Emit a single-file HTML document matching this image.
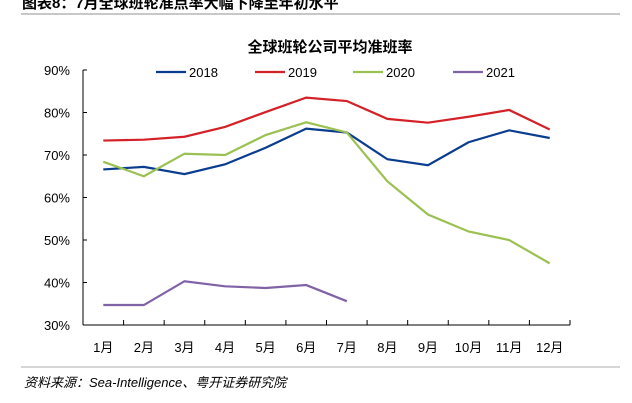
<!DOCTYPE html>
<html><head><meta charset="utf-8"><style>
body{margin:0;width:632px;height:403px;background:#fff;overflow:hidden;font-family:"Liberation Sans","Noto Sans CJK SC",sans-serif;}
</style></head><body>
<svg width="632" height="403" style="position:absolute;left:0;top:0">
<text x="22" y="8" font-size="15" font-weight="bold" fill="#000">图表8：7月全球班轮准点率大幅下降至年初水平</text>
<line x1="21" y1="14" x2="620" y2="14" stroke="#c8c8c8" stroke-width="2"/>
<text x="330" y="52" font-size="15" font-weight="bold" text-anchor="middle" fill="#000">全球班轮公司平均准班率</text>
<g id="legend"></g>
<g id="axes"></g>
<g id="plot"></g>
<line x1="21" y1="367" x2="620" y2="367" stroke="#c8c8c8" stroke-width="1.5"/>
<text x="24" y="387" font-size="13" font-style="italic" fill="#000">资料来源：Sea-Intelligence、粤开证券研究院</text>
</svg>
<script>
const categories=["1月","2月","3月","4月","5月","6月","7月","8月","9月","10月","11月","12月"];
const yTicks=[30,40,50,60,70,80,90];
const seriesNames=["2018","2019","2020","2021"];
const seriesColors=["#0a3d8f","#d42027","#9bc152","#8062a6"];
const s2018=[66.6,67.2,65.5,67.8,71.7,76.2,75.3,69,67.6,73,75.8,74];
const s2019=[73.4,73.6,74.3,76.6,80.1,83.5,82.7,78.5,77.6,79,80.6,76];
const s2020=[68.4,65,70.3,70,74.7,77.7,75.3,63.8,56,52,50,44.5];
const s2021=[34.7,34.7,40.3,39.1,38.7,39.4,35.6];
const NS="http://www.w3.org/2000/svg";
const X0=83,X1=570,Y0=325,Y1=70,ymin=30,ymax=90;
const bw=(X1-X0)/categories.length;
function xs(i){return X0+bw*(i+0.5);}
function ys(v){return Y0-(v-ymin)/(ymax-ymin)*(Y0-Y1);}
function mk(t,a,p){const e=document.createElementNS(NS,t);for(const k in a)e.setAttribute(k,a[k]);p.appendChild(e);return e;}
const axes=document.getElementById('axes');
let yl=mk('line',{x1:X0,y1:Y1,x2:X0,y2:Y0,stroke:'#000','stroke-width':1},axes);


let xl=mk('line',{x1:X0,y1:Y0,x2:X1,y2:Y0,stroke:'#000','stroke-width':1},axes);


yTicks.forEach(v=>{
 let t=mk('line',{x1:X0,y1:ys(v),x2:X0+4,y2:ys(v),stroke:'#000'},axes);
 
 
 let l=mk('text',{x:X0-13,y:ys(v)+5,'font-size':13,'text-anchor':'end'},axes);
 l.textContent=v+'%';
 
 
});
categories.forEach((c,i)=>{
 let t=mk('line',{x1:X0+bw*(i+1),y1:Y0,x2:X0+bw*(i+1),y2:Y0-5,stroke:'#000'},axes);
 
 
 let l=mk('text',{x:xs(i),y:352,'font-size':13,'text-anchor':'middle'},axes);
 l.textContent=c;
 
 
});
const plot=document.getElementById('plot');
[s2018,s2019,s2020,s2021].forEach((s,k)=>{
 let p=mk('polyline',{points:s.map((v,i)=>xs(i)+','+ys(v)).join(' '),fill:'none',stroke:seriesColors[k],'stroke-width':2.2},plot);
 
 
});
const lg=document.getElementById('legend');
const lx=[156,255,353,453];
seriesNames.forEach((n,k)=>{
 let l=mk('line',{x1:lx[k],y1:72,x2:lx[k]+30,y2:72,stroke:seriesColors[k],'stroke-width':2.2},lg);
 
 
 let t=mk('text',{x:lx[k]+33,y:77,'font-size':13},lg);
 t.textContent=n;
 
 
});
</script>
</body></html>
